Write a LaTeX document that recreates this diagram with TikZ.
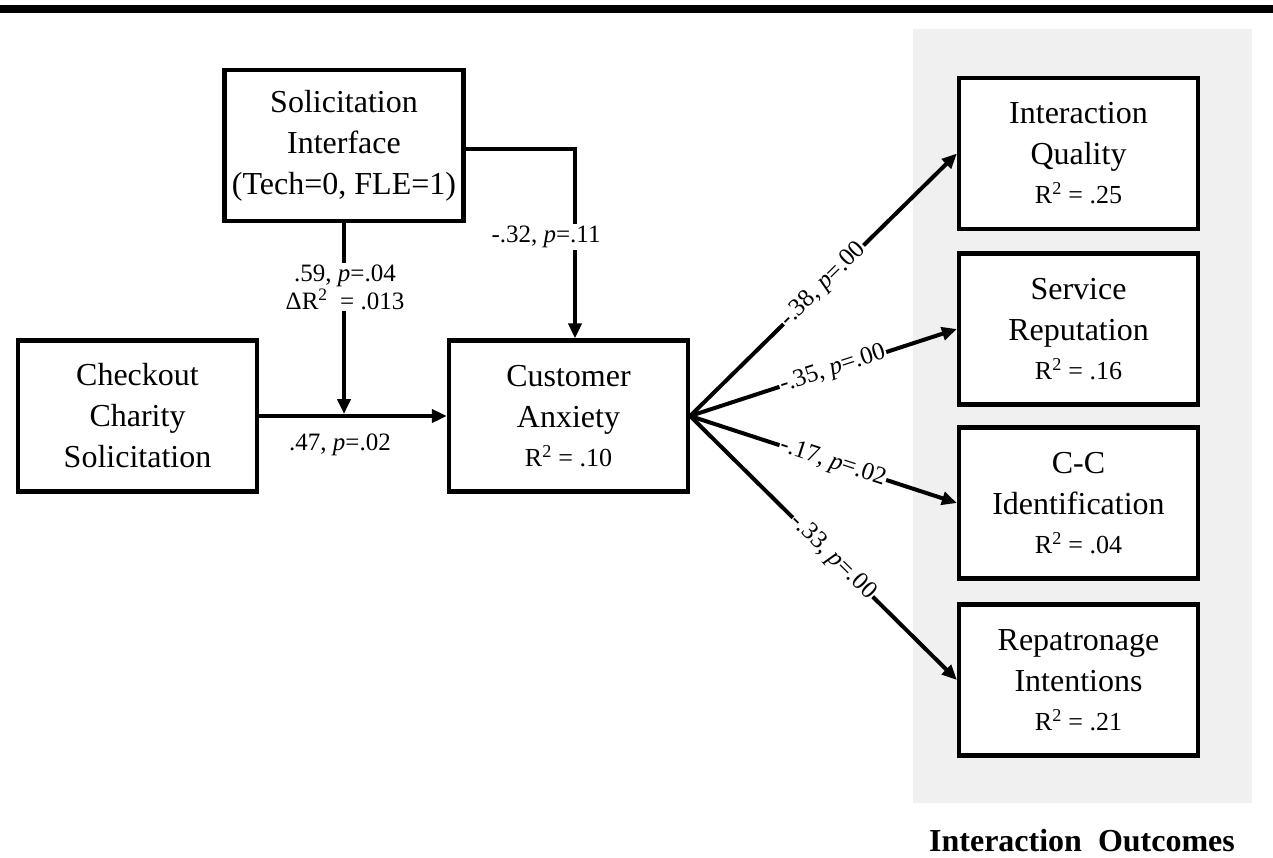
\documentclass[tikz,border=0pt]{standalone}
\usepackage{fontspec}
\setmainfont{Liberation Serif}
\usetikzlibrary{arrows.meta}
\definecolor{panelgray}{RGB}{240,240,240}
\begin{document}
\begin{tikzpicture}[x=1pt,y=-1pt,
  box/.style={draw, line width=4.2pt, fill=white, minimum width=239pt, minimum height=151pt,
    align=center, inner sep=0pt, font=\fontsize{32}{41}\selectfont},
  rsq/.style={},
  lab/.style={font=\fontsize{24}{28}\selectfont, fill=white, inner sep=2pt, align=center},
  slab/.style={font=\fontsize{25}{28}\selectfont, fill=white, inner sep=1pt, sloped},
  arr/.style={line width=4pt, -{Triangle[length=15pt,width=13pt]}}]
\useasboundingbox (0,0) rectangle (1273,857);
\fill (0,5) rectangle (1273,13);
\fill[panelgray] (913,29) rectangle (1252,803);

\node[box] (si) at (344,145.5) {Solicitation\\Interface\\(Tech=0, FLE=1)};
\node[box] (co) at (137.5,416) {Checkout\\Charity\\Solicitation};
\node[box] (ca) at (568.5,416) {Customer\\Anxiety\\[-2pt]{\fontsize{26}{30}\selectfont R\textsuperscript{2} = .10}};
\node[box] (iq) at (1078.5,153.5) {Interaction\\Quality\\[-2pt]{\fontsize{26}{30}\selectfont R\textsuperscript{2} = .25}};
\node[box] (sr) at (1078.5,329) {Service\\Reputation\\[-2pt]{\fontsize{26}{30}\selectfont R\textsuperscript{2} = .16}};
\node[box] (cc) at (1078.5,503) {C-C\\Identification\\[-2pt]{\fontsize{26}{30}\selectfont R\textsuperscript{2} = .04}};
\node[box] (rp) at (1078.5,680) {Repatronage\\Intentions\\[-2pt]{\fontsize{26}{30}\selectfont R\textsuperscript{2} = .21}};

\draw[arr] (co.east) -- (ca.west);
\node[font=\fontsize{25}{28}\selectfont] (l47) at (340,445) {.47, \textit{p}=.02};

\draw[arr, shorten >=2pt] (si.south) -- (si.south |- co.east);
\node[lab, font=\fontsize{25}{28}\selectfont] (l59) at (345,287) {.59, \textit{p}=.04\\ΔR\textsuperscript{2}\ \ = .013};

\draw[arr] ([yshift=-3.5pt]si.east) -| ([xshift=6.5pt]ca.north);
\node[lab, font=\fontsize{25}{28}\selectfont] (l32) at (546,237) {-.32, \textit{p}=.11};

\draw[arr] (ca.east) -- node[slab, pos=0.5] (l38) {-.38, \textit{p}=.00} (iq.west);
\draw[arr] (ca.east) -- node[slab, pos=0.535] (l35) {-.35, \textit{p}=.00} (sr.west);
\draw[arr] (ca.east) -- node[slab, pos=0.535] (l17) {-.17, \textit{p}=.02} (cc.west);
\draw[arr] (ca.east) -- node[slab, pos=0.535] (l33) {-.33, \textit{p}=.00} (rp.west);

\node[font=\fontsize{32}{36}\selectfont\bfseries] (out) at (1082,841) {Interaction\ \ Outcomes};
\end{tikzpicture}
\end{document}
